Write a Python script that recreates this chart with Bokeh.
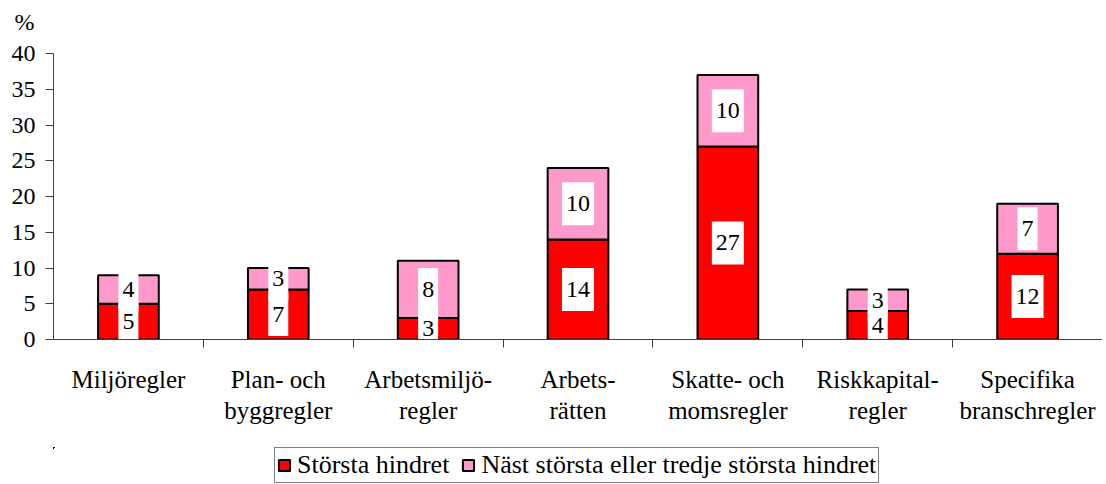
from bokeh.plotting import figure
from bokeh.models import (ColumnDataSource, FixedTicker, CustomJSTickFormatter, Legend,
                          LegendItem, Range1d, LinearAxis, Title)
from bokeh.layouts import column
from bokeh.core.properties import value
from bokeh.embed import file_html
from bokeh.resources import INLINE

categories = ["Miljöregler", "Plan- och\nbyggregler", "Arbetsmiljö-\nregler", "Arbets-\nrätten",
              "Skatte- och\nmomsregler", "Riskkapital-\nregler", "Specifika\nbranschregler"]
storsta = [5, 7, 3, 14, 27, 4, 12]
nast = [4, 3, 8, 10, 10, 3, 7]
y_ticks = [0, 5, 10, 15, 20, 25, 30, 35, 40]
series_names = ["Största hindret", "Näst största eller tredje största hindret"]

FONT = "Liberation Serif"
RED = "#FF0000"
PINK = "#FF99CC"
AXIS = "#404040"

n = len(categories)
xs = [i + 0.5 for i in range(n)]
tops = [a + b for a, b in zip(storsta, nast)]

src = ColumnDataSource(dict(
    x=xs, s=storsta, n=nast, top=tops,
    s_mid=[a / 2 for a in storsta],
    n_mid=[a + b / 2 for a, b in zip(storsta, nast)],
    s_txt=[str(v) for v in storsta],
    n_txt=[str(v) for v in nast],
    s_w=[8 + 12 * len(str(v)) for v in storsta],
    n_w=[8 + 12 * len(str(v)) for v in nast],
))

p = figure(output_backend="svg", toolbar_location=None,
           x_range=Range1d(0, n), y_range=Range1d(0, 40),
           frame_width=1049, frame_height=286,
           min_border_left=53, min_border_top=53, min_border_right=0, min_border_bottom=108,
           x_axis_type=None)
p.outline_line_color = None
p.xgrid.visible = False
p.ygrid.visible = False

# "%" unit label above the y axis, with a small spacer title between it and the frame
p.title.text = "%"
p.title.align = "left"
p.title.offset = -39
p.title.standoff = 12
p.title.text_font = FONT
p.title.text_font_size = "24px"
p.title.text_font_style = "normal"
p.title.text_color = "black"
spacer = Title(text=" ", text_font_size="10px", standoff=0)
p.add_layout(spacer, "above")

bar_style = dict(width=0.405, line_color="black", line_width=2)
p.vbar(x="x", bottom=0, top="s", source=src, fill_color=RED, **bar_style)
p.vbar(x="x", bottom="s", top="top", source=src, fill_color=PINK, **bar_style)

# value label boxes
p.rect(x="x", y="s_mid", width="s_w", height=43, width_units="screen", height_units="screen",
       source=src, fill_color="white", line_color=None)
p.rect(x="x", y="n_mid", width="n_w", height=43, width_units="screen", height_units="screen",
       source=src, fill_color="white", line_color=None)
p.text(x="x", y="s_mid", text="s_txt", source=src, text_font=value(FONT), text_font_size="24px",
       text_align="center", text_baseline="middle", text_color="black")
p.text(x="x", y="n_mid", text="n_txt", source=src, text_font=value(FONT), text_font_size="24px",
       text_align="center", text_baseline="middle", text_color="black")

# y axis
ya = p.yaxis[0]
ya.ticker = FixedTicker(ticks=y_ticks)
ya.axis_line_color = AXIS
ya.major_tick_line_color = AXIS
ya.major_tick_in = 0
ya.major_tick_out = 8
ya.minor_tick_line_color = None
ya.major_label_text_font = FONT
ya.major_label_text_font_size = "24px"
ya.major_label_text_color = "black"
ya.major_label_standoff = 10

# x axis: labels at category centres, ticks between categories
xa = LinearAxis(
    ticker=FixedTicker(ticks=xs, minor_ticks=list(range(1, n))),
    formatter=CustomJSTickFormatter(args=dict(labels=categories),
                                    code="return labels[Math.floor(tick)];"),
)
xa.axis_line_color = AXIS
xa.major_tick_line_color = None
xa.minor_tick_line_color = AXIS
xa.minor_tick_in = 0
xa.minor_tick_out = 8
xa.major_label_text_font = FONT
xa.major_label_text_font_size = "25px"
xa.major_label_text_color = "black"
xa.major_label_text_line_height = 1.16
xa.major_label_standoff = 18
p.add_layout(xa, "below")

# legend strip below the chart (its swatches reuse the same data, kept out of view)
p2 = figure(output_backend="svg", toolbar_location=None, width=1102, height=37,
            x_range=Range1d(1000, 1001), y_range=Range1d(-1000, -999),
            x_axis_type=None, y_axis_type=None,
            min_border_left=0, min_border_right=0, min_border_top=0, min_border_bottom=0)
p2.outline_line_color = None
p2.xgrid.visible = False
p2.ygrid.visible = False
k1 = p2.vbar(x="x", bottom=0, top="s", source=src, fill_color=RED, **bar_style)
k2 = p2.vbar(x="x", bottom="s", top="top", source=src, fill_color=PINK, **bar_style)
legend = Legend(items=[LegendItem(label=series_names[0], renderers=[k1], index=0),
                       LegendItem(label=series_names[1], renderers=[k2], index=0)],
                orientation="horizontal", location=(221, 1),
                label_text_font=FONT, label_text_font_size="26px", label_text_color="black",
                glyph_width=14, glyph_height=14, label_standoff=6, spacing=12,
                padding=2, margin=0, label_height=20,
                border_line_color="black", border_line_width=1,
                background_fill_alpha=1)
p2.add_layout(legend, "center")

open("out.html", "w").write(file_html(column(p, p2), INLINE))
